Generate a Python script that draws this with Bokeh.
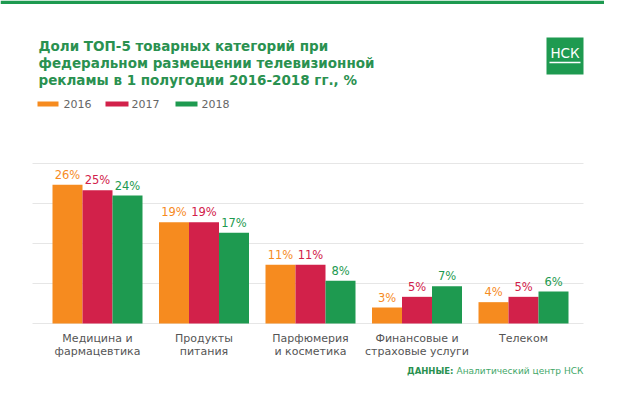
from bokeh.plotting import figure
from bokeh.models import Range1d, ColumnDataSource
from bokeh.core.properties import value
from bokeh.embed import file_html
from bokeh.resources import INLINE
import numpy as np

# ---------------- data ----------------
TITLE_LINES = [
    "Доли ТОП-5 товарных категорий при",
    "федеральном размещении телевизионной",
    "рекламы в 1 полугодии 2016-2018 гг., %",
]
CATEGORIES = [
    "Медицина и\nфармацевтика",
    "Продукты\nпитания",
    "Парфюмерия\nи косметика",
    "Финансовые и\nстраховые услуги",
    "Телеком",
]
YEARS = ["2016", "2017", "2018"]
V2016 = [26, 19, 11, 3, 4]
V2017 = [25, 19, 11, 5, 5]
V2018 = [24, 17, 8, 7, 6]
GRID_TICKS = [0, 7.5, 15, 22.5, 30]
SOURCE_LABEL = "ДАННЫЕ:"
SOURCE_TEXT = "Аналитический центр НСК"
LOGO_TEXT = "НСК"

# ---------------- style ----------------
COLORS = ["#F68B1F", "#D2214A", "#1E9A50"]
GREEN = "#1E9A50"
TITLE_GREEN = "#2A9150"
TEXT_GREY = "#555555"
FONT = "DejaVu Sans"

W, H = 604, 382
X0PX, XS = 97.0, 106.5          # canvas px of first group centre, px per category
Y0PX, YS = 323.0, 160.0 / 30.0  # canvas px of baseline, px per percent


def dx(cx):
    return (cx - X0PX) / XS


def dy(cy):
    return (Y0PX - cy) / YS


p = figure(width=W, height=H, output_backend="svg", toolbar_location=None,
           x_range=Range1d(dx(0), dx(W)), y_range=Range1d(dy(H), dy(0)),
           x_axis_type=None, y_axis_type=None, min_border=0)
p.outline_line_color = None
p.background_fill_color = "white"
p.border_fill_color = "white"
p.grid.visible = False

# top green strip
p.quad(left=[dx(0)], right=[dx(W)], top=[dy(0)], bottom=[dy(3.5)],
       fill_color=GREEN, line_color=None)

# gridlines
p.segment(x0=[dx(32)] * len(GRID_TICKS), x1=[dx(583)] * len(GRID_TICKS),
          y0=GRID_TICKS, y1=GRID_TICKS, line_color="#E6E6E6", line_width=1)

# bars
idx = np.arange(len(CATEGORIES))
bw = 30.0 / XS
series = [V2016, V2017, V2018]
for k, (vals, col) in enumerate(zip(series, COLORS)):
    xs = idx + (k - 1) * bw
    src = ColumnDataSource(dict(x=xs, top=vals, lab=[f"{v}%" for v in vals]))
    p.vbar(x="x", top="top", bottom=0, width=bw, source=src,
           fill_color=col, line_color=None)
    p.text(x="x", y="top", text="lab", source=src, text_color=col,
           text_font=value(FONT), text_font_size="11.5px",
           text_align="center", text_baseline="middle", y_offset=-10)

# category labels
p.text(x=idx, y=[0] * len(idx), text=CATEGORIES, text_color=TEXT_GREY,
       text_font=value(FONT), text_font_size="11px", text_align="center",
       text_baseline="top", y_offset=8, text_line_height=1.0)

# title
for i, line in enumerate(TITLE_LINES):
    p.text(x=[dx(38)], y=[dy(45 + 17 * i)], text=[line], text_color=TITLE_GREEN,
           text_font=value(FONT), text_font_style="bold", text_font_size="13.5px",
           text_align="left", text_baseline="middle")

# legend
sw = [(37, 58, 63), (105, 128, 131), (175, 197, 201)]
for (l, r, tx), col, yr in zip(sw, COLORS, YEARS):
    p.quad(left=[dx(l)], right=[dx(r)], top=[dy(101)], bottom=[dy(106)],
           fill_color=col, line_color=None)
    p.text(x=[dx(tx)], y=[dy(103.5)], text=[yr], text_color="#666666",
           text_font=value(FONT), text_font_size="11px",
           text_align="left", text_baseline="middle")

# logo
p.quad(left=[dx(546)], right=[dx(583)], top=[dy(37)], bottom=[dy(74)],
       fill_color=GREEN, line_color=None)
p.text(x=[dx(564.5)], y=[dy(52.5)], text=[LOGO_TEXT], text_color="white",
       text_font=value(FONT), text_font_size="13.5px",
       text_align="center", text_baseline="middle")
p.segment(x0=[dx(549)], x1=[dx(580)], y0=[dy(62)], y1=[dy(62)],
          line_color="white", line_width=1.5)

# source
p.text(x=[dx(453)], y=[dy(370)], text=[SOURCE_LABEL], text_color=TITLE_GREEN,
       text_font=value(FONT), text_font_style="bold", text_font_size="8.5px",
       text_align="right", text_baseline="middle")
p.text(x=[dx(456)], y=[dy(370)], text=[SOURCE_TEXT], text_color="#3FA768",
       text_font=value(FONT), text_font_size="9px",
       text_align="left", text_baseline="middle")

open("out.html", "w").write(file_html(p, INLINE))
